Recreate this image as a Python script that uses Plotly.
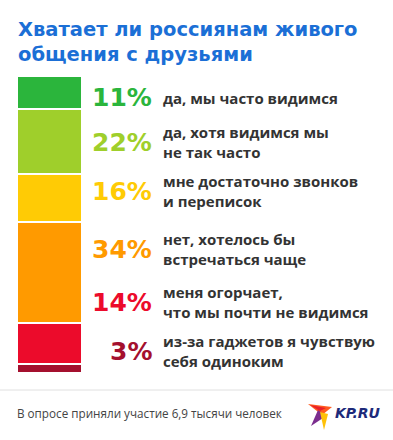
import plotly.graph_objects as go

# ---- data ----
categories = [
    "да, мы часто видимся",
    "да, хотя видимся мы<br>не так часто",
    "мне достаточно звонков<br>и переписок",
    "нет, хотелось бы<br>встречаться чаще",
    "меня огорчает,<br>что мы почти не видимся",
    "из-за гаджетов я чувствую<br>себя одиноким",
]
values = [11, 22, 16, 34, 14, 3]
colors = ["#2bb53c", "#9fcf2b", "#ffcb05", "#ff9a00", "#ec0b2b", "#a4102e"]

title_text = "Хватает ли россиянам живого<br>общения с друзьями"
footer_text = "В опросе приняли участие 6,9 тысячи человек"

# ---- layout helpers (pixels of a 393x440 canvas) ----
W, H = 393, 440
row_y_px = [98, 142, 191, 249, 302, 351]

def px(x):
    return x / W

def py(y):
    return 1 - y / H

FONT = "Open Sans"
BOLD_WIDE = "DejaVu Sans"

fig = go.Figure()
for cat, val, col in zip(categories, values, colors):
    fig.add_trace(go.Bar(
        x=[0], y=[val], width=1, name=cat,
        marker=dict(color=col, line=dict(color="white", width=2)),
        hoverinfo="skip", showlegend=False,
    ))

ann = []
ann.append(dict(text="<b>" + title_text + "</b>", x=px(16), y=py(41.5), xref="paper", yref="paper",
                xanchor="left", yanchor="middle", showarrow=False, align="left",
                font=dict(family=BOLD_WIDE, size=19.5, color="#1b6fd6")))
for cat, val, col, yy in zip(categories, values, colors, row_y_px):
    ann.append(dict(text=f"<b>{val}%</b>", x=px(154), y=py(yy), xref="paper", yref="paper",
                    xanchor="right", yanchor="middle", showarrow=False,
                    font=dict(family=BOLD_WIDE, size=25, color=col)))
    ann.append(dict(text=f"<b>{cat}</b>", x=px(161), y=py(yy), xref="paper", yref="paper",
                    xanchor="left", yanchor="middle", showarrow=False, align="left",
                    font=dict(family=FONT, size=15, color="#333333")))
ann.append(dict(text=footer_text, x=px(15), y=py(413), xref="paper", yref="paper",
                xanchor="left", yanchor="middle", showarrow=False,
                font=dict(family=FONT, size=11.7, color="#444444")))
ann.append(dict(text="<b><i>KP.RU</i></b>", x=px(333), y=py(413), xref="paper", yref="paper",
                xanchor="left", yanchor="middle", showarrow=False,
                font=dict(family=BOLD_WIDE, size=14, color="#1d2a7a")))

shapes = [
    dict(type="line", xref="paper", yref="paper", x0=0, x1=1, y0=py(390), y1=py(390),
         line=dict(color="#e0e0e0", width=1)),
]
# logo bird (decorative)
def path(points):
    return "M " + " L ".join(f"{px(a)},{py(b)}" for a, b in points) + " Z"

shapes += [
    dict(type="path", xref="paper", yref="paper", path=path([(308, 404), (332, 407), (322, 415)]),
         fillcolor="#ff5a1f", line=dict(width=0)),
    dict(type="path", xref="paper", yref="paper", path=path([(318, 410), (326, 416), (311, 426)]),
         fillcolor="#7b2d8e", line=dict(width=0)),
    dict(type="path", xref="paper", yref="paper", path=path([(320, 412), (328, 414), (324, 430)]),
         fillcolor="#ffc107", line=dict(width=0)),
    dict(type="path", xref="paper", yref="paper", path=path([(310, 405), (326, 408), (320, 411)]),
         fillcolor="#e8202a", line=dict(width=0)),
]

fig.update_layout(
    width=W, height=H,
    margin=dict(l=0, r=0, t=0, b=0),
    paper_bgcolor="white", plot_bgcolor="white",
    barmode="stack", bargap=0,
    xaxis=dict(domain=[px(17), px(82)], range=[-0.5, 0.5], visible=False, fixedrange=True),
    yaxis=dict(domain=[py(373), py(76)], range=[100, 0], visible=False, fixedrange=True),
    annotations=ann, shapes=shapes,
)

fig.write_html("out.html", config={"displayModeBar": False},
               post_script="document.body.style.margin='0';document.body.style.overflow='hidden';")
